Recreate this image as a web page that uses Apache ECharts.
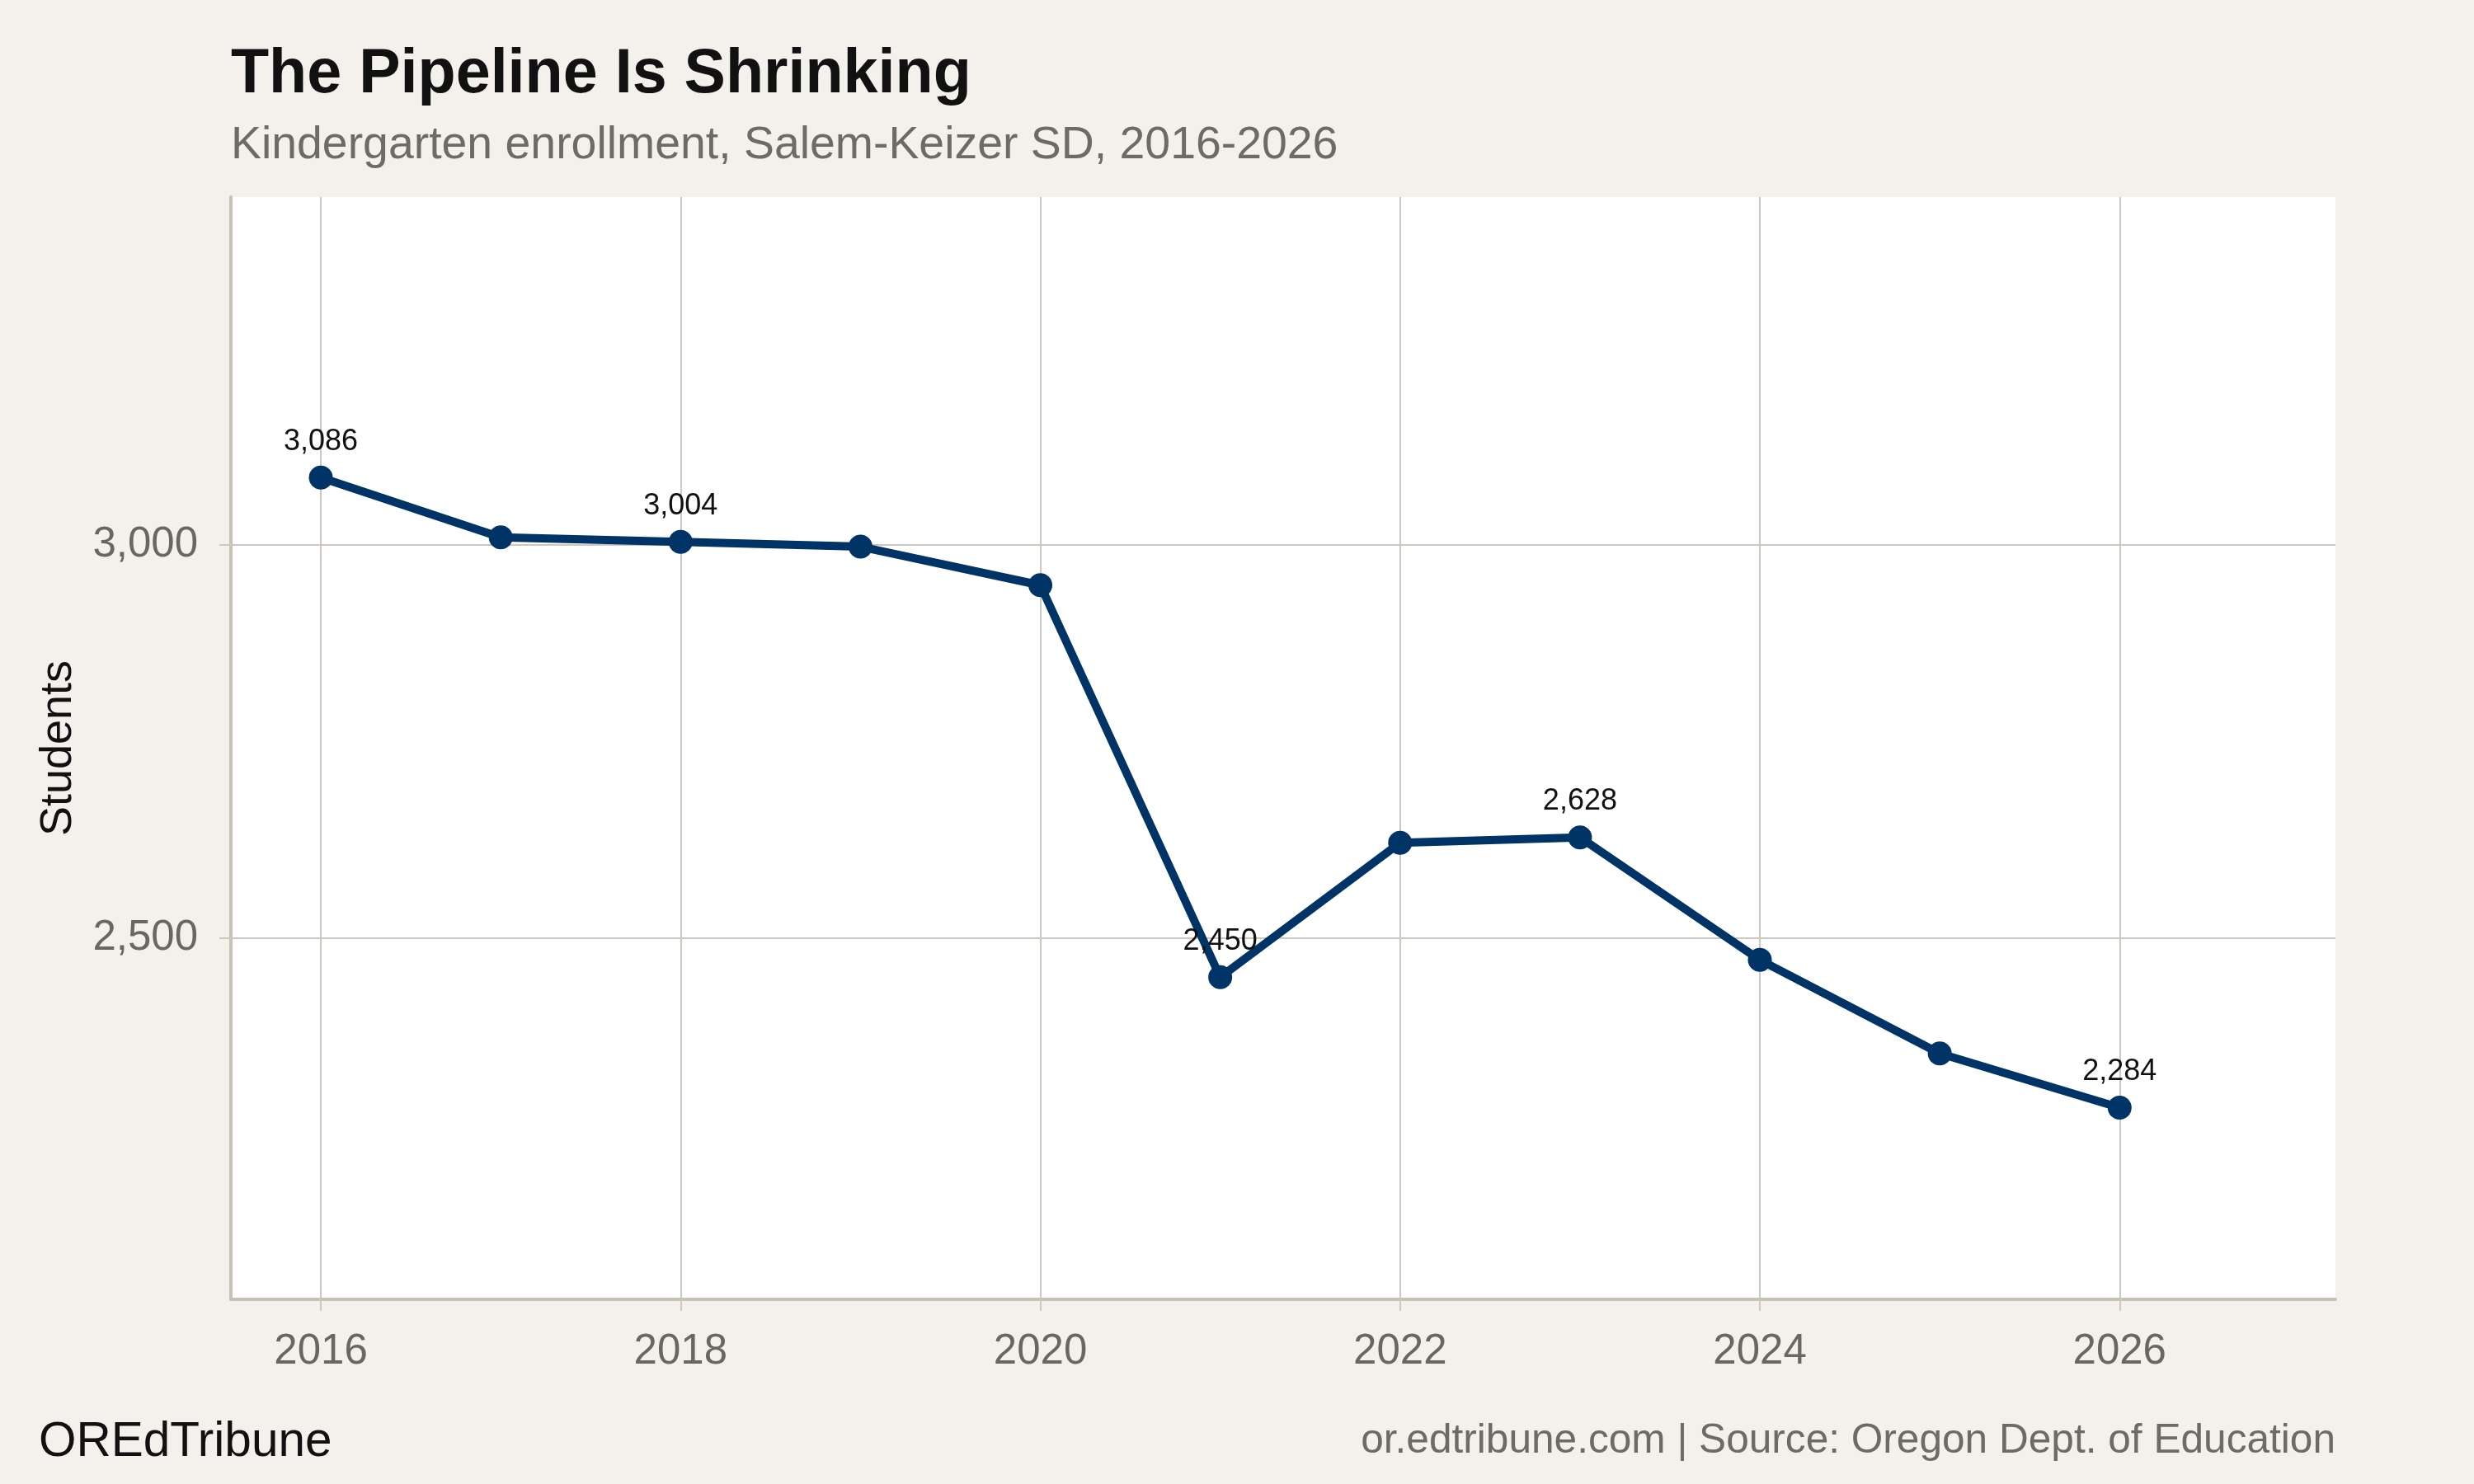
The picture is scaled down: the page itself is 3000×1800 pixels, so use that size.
<!DOCTYPE html>
<html>
<head>
<meta charset="utf-8">
<script src="https://cdn.jsdelivr.net/npm/echarts@6/dist/echarts.min.js"></script>
<style>
html,body{margin:0;padding:0;background:#f4f1ec;}
#chart{width:3000px;height:1800px;}
</style>
</head>
<body>
<div id="chart"></div>
<script>
// ---- data ----
const years = [2016, 2017, 2018, 2019, 2020, 2021, 2022, 2023, 2024, 2025, 2026];
const enrollment = [3086, 3010, 3004, 2998, 2949, 2450, 2621, 2628, 2472, 2353, 2284];
const labeledYears = [2016, 2018, 2021, 2023, 2026];
const xTickValues = [2016, 2018, 2020, 2022, 2024, 2026];
const yTickValues = [2500, 3000];

const titleText = 'The Pipeline Is Shrinking';
const subtitleText = 'Kindergarten enrollment, Salem-Keizer SD, 2016-2026';
const yAxisTitle = 'Students';
const brandText = 'OREdTribune';
const captionText = 'or.edtribune.com | Source: Oregon Dept. of Education';

// ---- style ----
const FONT = '"Liberation Sans", Arial, Helvetica, sans-serif';
const navy = '#003366';
const gridColor = '#cdc7bf';
const axisColor = '#c8c1b7';
const grayText = '#6b6661';

const fmt = v => Number(v).toLocaleString('en-US');

const seriesData = years.map((y, i) => ({
  value: [y, enrollment[i]],
  label: { show: labeledYears.indexOf(y) !== -1 }
}));

const chart = echarts.init(document.getElementById('chart'), null, { renderer: 'canvas', width: 3000, height: 1800 });

chart.setOption({
  backgroundColor: '#f4f1ec',
  animation: false,
  title: [
    { text: titleText, left: 280, top: 54, padding: 0,
      textStyle: { fontFamily: FONT, fontSize: 75.5, fontWeight: 'bold', color: '#111111', lineHeight: 75 } },
    { text: subtitleText, left: 280, top: 149, padding: 0,
      textStyle: { fontFamily: FONT, fontSize: 55.4, fontWeight: 'normal', color: '#6e6a65', lineHeight: 55 } },
    { text: brandText, left: 47, top: 1721, padding: 0,
      textStyle: { fontFamily: FONT, fontSize: 58.5, fontWeight: 'normal', color: '#111111', lineHeight: 58 } },
    { text: captionText, right: 168, top: 1723, padding: 0,
      textStyle: { fontFamily: FONT, fontSize: 49.6, fontWeight: 'normal', color: '#6e6a65', lineHeight: 50 } }
  ],
  grid: {
    left: 280, right: 168, top: 239, bottom: 224,
    show: true, backgroundColor: '#ffffff', borderWidth: 0,
    containLabel: false
  },
  xAxis: {
    type: 'value',
    min: 2015.5, max: 2027.2,
    axisLine: { show: true, onZero: false, lineStyle: { color: axisColor, width: 4 } },
    axisTick: { show: true, customValues: xTickValues, length: 14, lineStyle: { color: gridColor, width: 2 } },
    axisLabel: { show: true, customValues: xTickValues, margin: 38, color: grayText,
      fontFamily: FONT, fontSize: 51, formatter: v => String(v) },
    splitLine: { show: true, lineStyle: { color: gridColor, width: 2 } },
    minorSplitLine: { show: false }
  },
  yAxis: {
    type: 'value',
    min: 2040, max: 3443,
    name: yAxisTitle,
    nameLocation: 'middle',
    nameGap: 182,
    nameRotate: 90,
    nameTextStyle: { fontFamily: FONT, fontSize: 54, color: '#111111', lineHeight: 54 },
    axisLine: { show: true, onZero: false, lineStyle: { color: axisColor, width: 4 } },
    axisTick: { show: true, customValues: yTickValues, length: 14, lineStyle: { color: gridColor, width: 2 } },
    axisLabel: { show: true, customValues: yTickValues, margin: 40, color: grayText,
      fontFamily: FONT, fontSize: 51, formatter: v => fmt(v) },
    splitLine: { show: true, lineStyle: { color: gridColor, width: 2 } }
  },
  series: [{
    type: 'line',
    data: seriesData,
    symbol: 'circle',
    symbolSize: 29,
    showAllSymbol: true,
    lineStyle: { color: navy, width: 10 },
    itemStyle: { color: navy },
    label: {
      position: 'top', distance: 11,
      fontFamily: FONT, fontSize: 36, color: '#111111',
      formatter: p => fmt(p.value[1])
    },
    emphasis: { disabled: true },
    z: 5
  }]
});
</script>
</body>
</html>
